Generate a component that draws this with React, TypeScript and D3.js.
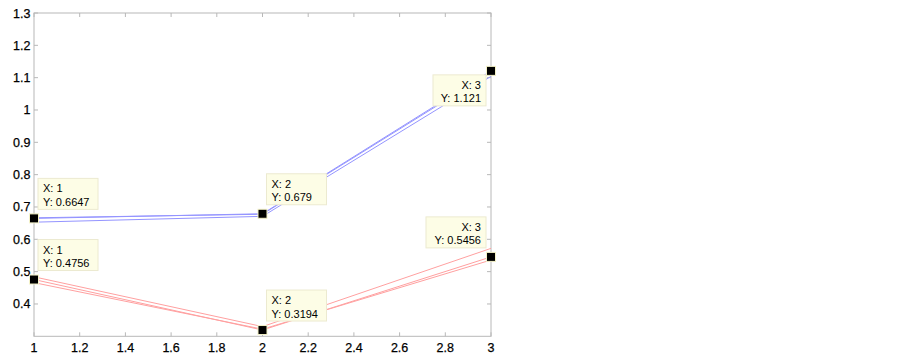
import React from "react";
import * as d3 from "d3";

const xValues = [1, 2, 3];
const blueSeries = [
  [0.6647, 0.679, 1.121],
  [0.6665, 0.6775, 1.117],
  [0.653, 0.671, 1.104],
];
const redSeries = [
  [0.4756, 0.3194, 0.5456],
  [0.484, 0.33, 0.572],
  [0.466, 0.322, 0.536],
];
const xTicks = [1, 1.2, 1.4, 1.6, 1.8, 2, 2.2, 2.4, 2.6, 2.8, 3];
const yTicks = [0.4, 0.5, 0.6, 0.7, 0.8, 0.9, 1, 1.1, 1.2, 1.3];
const tips = [
  { x: 1, y: 0.6647, label: "0.6647", side: "right", below: false },
  { x: 1, y: 0.4756, label: "0.4756", side: "right", below: false },
  { x: 2, y: 0.679, label: "0.679", side: "right", below: false },
  { x: 2, y: 0.3194, label: "0.3194", side: "right", below: false },
  { x: 3, y: 1.121, label: "1.121", side: "left", below: true },
  { x: 3, y: 0.5456, label: "0.5456", side: "left", below: false },
];

const W = 903, H = 359;
const L = 34, R = 491, T = 13, B = 336.3;

export default function App() {
  const x = d3.scaleLinear().domain([1, 3]).range([L, R]);
  const y = d3.scaleLinear().domain([0.3, 1.3]).range([B, T]);
  const line = d3
    .line<number>()
    .x((_, i) => x(xValues[i]))
    .y((d) => y(d));
  const axisColor = "#b8b8b8";
  const font = "'Liberation Sans', Arial, sans-serif";
  return (
    <svg
      width={W}
      height={H}
      style={{ position: "absolute", left: 0, top: 0, background: "#fff" }}
    >
      <rect x={L} y={T} width={R - L} height={B - T} fill="#fff" stroke={axisColor} strokeWidth={1} />
      {xTicks.map((t) => (
        <g key={"xt" + t}>
          <line x1={x(t)} x2={x(t)} y1={B} y2={B - 4} stroke={axisColor} />
          <line x1={x(t)} x2={x(t)} y1={T} y2={T + 4} stroke={axisColor} />
          <text x={x(t)} y={351.5} textAnchor="middle" fontFamily={font} fontSize={12.5} fill="#000" stroke="#000" strokeWidth={0.25}>
            {String(t)}
          </text>
        </g>
      ))}
      {yTicks.map((t) => (
        <g key={"yt" + t}>
          <line x1={L} x2={L + 4} y1={y(t)} y2={y(t)} stroke={axisColor} />
          <line x1={R} x2={R - 4} y1={y(t)} y2={y(t)} stroke={axisColor} />
          <text x={30.5} y={y(t) + 4.5} textAnchor="end" fontFamily={font} fontSize={12.5} fill="#000" stroke="#000" strokeWidth={0.25}>
            {String(t)}
          </text>
        </g>
      ))}
      {blueSeries.map((s, i) => (
        <path key={"b" + i} d={line(s) || ""} fill="none" stroke="#9494ff" strokeWidth={1} />
      ))}
      {redSeries.map((s, i) => (
        <path key={"r" + i} d={line(s) || ""} fill="none" stroke="#ffa0a0" strokeWidth={1} />
      ))}
      {tips.map((tp, i) => {
        const px = x(tp.x), py = y(tp.y);
        const bw = tp.side === "right" ? 60 : tp.label.length > 5 ? 60 : 53;
        const bh = 31;
        const bx = tp.side === "right" ? px + 4 : px - 5 - bw;
        const by = tp.below ? py + 4 : py - 9 - bh;
        const tx = tp.side === "right" ? bx + 5 : bx + bw - 5;
        const anchor = tp.side === "right" ? "start" : "end";
        return (
          <g key={"tip" + i}>
            <rect x={bx} y={by} width={bw} height={bh} fill="#fdfde6" stroke="#ecead0" strokeWidth={1} />
            <text x={tx} y={by + 14} textAnchor={anchor} fontFamily={font} fontSize={11} fill="#000">{`X: ${tp.x}`}</text>
            <text x={tx} y={by + 27.5} textAnchor={anchor} fontFamily={font} fontSize={11} fill="#000">{`Y: ${tp.label}`}</text>
            <rect x={px - 4.5} y={py - 4.5} width={9} height={9} fill="#000" stroke="#f4f2c8" strokeWidth={1} />
          </g>
        );
      })}
    </svg>
  );
}
